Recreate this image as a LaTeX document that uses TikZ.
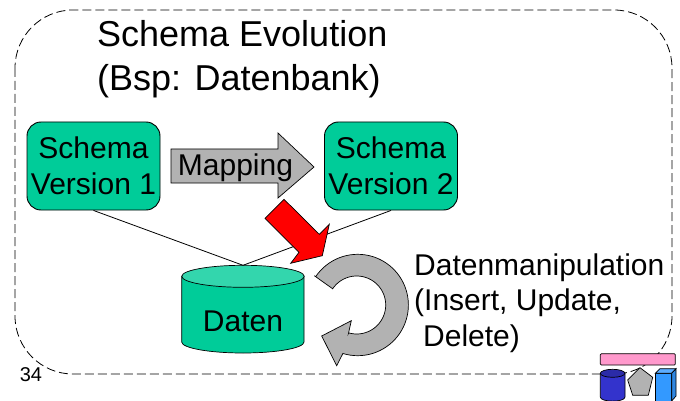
\documentclass[tikz,border=0pt]{standalone}
\usepackage{fontspec}
\setmainfont{Liberation Sans}
\definecolor{grn}{HTML}{00CC99}
\definecolor{grntop}{HTML}{33D6AD}
\definecolor{gry}{HTML}{B2B2B2}
\definecolor{navy1}{HTML}{3333CC}
\definecolor{navy2}{HTML}{2B2BA8}
\definecolor{sky1}{HTML}{3399FF}
\definecolor{sky2}{HTML}{2E86E0}
\definecolor{pinkbar}{HTML}{FF99CC}
\tikzset{
  txt/.style={font=\fontsize{30}{35.5}\selectfont,inner sep=0pt,align=left},
  title/.style={font=\fontsize{36}{44}\selectfont,inner sep=0pt,align=left},
  verbox/.style={draw=black,line width=0.9pt,fill=grn,rounded corners=14pt,minimum width=133pt,minimum height=88pt,inner sep=0pt,align=center,font=\fontsize{30}{36}\selectfont},
  shp/.style={draw=black,line width=0.7pt},
  link/.style={draw=black,line width=0.8pt}
}
\begin{document}
\begin{tikzpicture}[x=1pt,y=-1pt]
\useasboundingbox (0,0) rectangle (680,401);
\fill[white] (0,0) rectangle (680,401);
% frame
\draw[black,line width=0.8pt,dash pattern=on 9pt off 4pt,rounded corners=58pt] (15,10) rectangle (672,374);
% title
\node[title,anchor=west] (ttl) at (97,59) {Schema Evolution\\(Bsp: Datenbank)};
% boxes
\node[verbox] (v1) at (93.5,166) {Schema\\Version 1};
\node[verbox] (v2) at (391,166) {Schema\\Version 2};
% cylinder
\coordinate (dtop) at (243,265.3);
\draw[shp,fill=grn] (181.7,276.3) -- (181.7,342) .. controls (181.7,348) and (209,353) .. (243,353) .. controls (277,353) and (304,348) .. (304,342) -- (304,276.3) -- cycle;
\draw[shp,fill=grntop] (243,276.3) ellipse[x radius=61.2,y radius=11];
\node[txt,anchor=center] (dat) at (243,321) {Daten};
% connectors
\draw[link] (v1.south) -- (dtop);
\draw[link] (v2.south) -- (dtop);
% mapping arrow
\draw[shp,fill=gry] (171,149) -- (278,149) -- (278,133) -- (314,167) -- (278,198) -- (278,183) -- (171,183) -- cycle;
\node[txt] (map) at (235.5,168) {Mapping};
% red arrow
\draw[shp,fill=red] (284,199.3) -- (265,218.3) -- (299,252.3) -- (290.7,263.3) -- (322.3,255.7) -- (329.3,224.3) -- (319.3,234.3) -- cycle;
% circular arrow
\draw[shp,fill=gry] (314.3,275.7)
  -- plot[domain=214:467,samples=60,smooth] ({357.7+50.7*cos(\x)},{305+50.7*sin(\x)})
  -- (336.7,365.7) -- (321.7,336) -- (351.3,320.7) -- (348.5,333.3)
  -- plot[domain=466:214,samples=60,smooth] ({356.7+29*cos(\x)},{305+29*sin(\x)})
  -- cycle;
% label
\node[txt,anchor=west] (dm) at (414,303) {Datenmanipulation\\(Insert, Update,\\\hspace*{9pt}Delete)};
\node[inner sep=0pt,font=\fontsize{20}{24}\selectfont] (num) at (31,375) {34};
% icon
\draw[shp,fill=pinkbar,rounded corners=1pt] (600.3,353.7) rectangle (675.3,365);
\draw[shp,fill=navy1] (600.3,373.3) -- (600.3,397) .. controls (600.3,402.5) and (625,402.5) .. (625,397) -- (625,373.3);
\draw[shp,fill=navy2] (612.6,373.3) ellipse[x radius=12.3,y radius=4];
\draw[shp,fill=gry] (640,367.7) -- (652.7,377.3) -- (648.3,395.3) -- (632.7,395.3) -- (627.7,380) -- cycle;
\draw[shp,fill=sky1] (655.3,373.3) rectangle (671.7,401);
\draw[shp,fill=sky1!80!white] (655.3,373.3) -- (660,368.7) -- (676,368.7) -- (671.7,373.3) -- cycle;
\draw[shp,fill=sky2] (671.7,373.3) -- (676,368.7) -- (676,396) -- (671.7,401) -- cycle;
\end{tikzpicture}
\end{document}
